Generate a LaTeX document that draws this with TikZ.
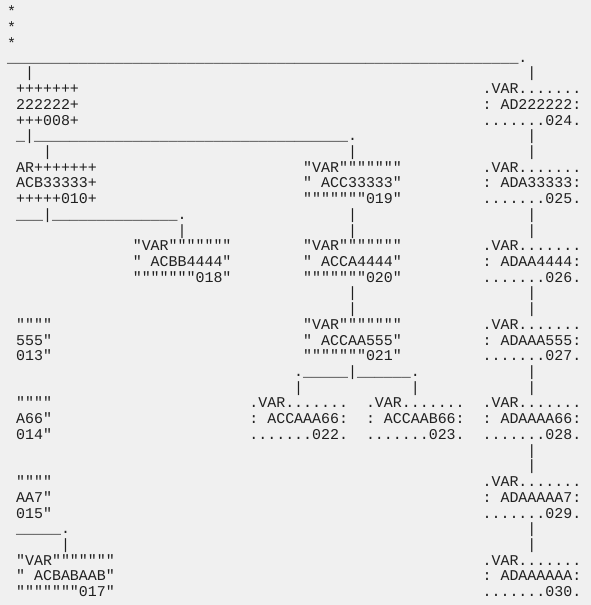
\documentclass[tikz,border=0pt]{standalone}
\usepackage{fontspec}
\setmonofont{Liberation Mono}
\definecolor{bg}{HTML}{F0F0F0}
\definecolor{ink}{HTML}{202020}
\newcommand\ur[1]{\ifnum#1>0 \textunderscore\expandafter\ur\expandafter{\the\numexpr#1-1\relax}\fi}
\tikzset{ln/.style={anchor=base west, inner sep=0pt, outer sep=0pt, text=ink,
  font=\ttfamily\fontsize{14.95}{15}\selectfont\frenchspacing}}
\newcommand\T[4]{\node[ln] (#1) at ({7.2+#3*8.97},{590-#2*15.72}) {#4};}
\begin{document}
\begin{tikzpicture}[x=1pt,y=1pt]
\fill[bg] (0,0) rectangle (591,605);
\useasboundingbox (0,0) rectangle (591,605);
% stars
\T{s0}{0}{0}{\raisebox{-2pt}{*}}
\T{s1}{1}{0}{\raisebox{-2pt}{*}}
\T{s2}{2}{0}{\raisebox{-2pt}{*}}
% row 3-4
\T{r3a}{3}{0}{\ur{57}.}
\T{r4a}{4}{2}{|}
\T{r4b}{4}{58}{|}
% rows 5-7
\T{r5a}{5}{1}{+++++++}
\T{r5b}{5}{53}{.VAR.......}
\T{r6a}{6}{1}{222222+}
\T{r6b}{6}{53}{: AD222222:}
\T{r7a}{7}{1}{+++008+}
\T{r7b}{7}{53}{.......024.}
% rows 8-9
\T{r8a}{8}{1}{\textunderscore|\ur{35}.}
\T{r8b}{8}{58}{|}
\T{r9a}{9}{4}{|}
\T{r9b}{9}{38}{|}
\T{r9c}{9}{58}{|}
% rows 10-12
\T{r10a}{10}{1}{AR+++++++}
\T{r10b}{10}{33}{"VAR"""""""}
\T{r10c}{10}{53}{.VAR.......}
\T{r11a}{11}{1}{ACB33333+}
\T{r11b}{11}{33}{" ACC33333"}
\T{r11c}{11}{53}{: ADA33333:}
\T{r12a}{12}{1}{+++++010+}
\T{r12b}{12}{33}{"""""""019"}
\T{r12c}{12}{53}{.......025.}
% rows 13-14
\T{r13a}{13}{1}{\ur{3}|\ur{14}.}
\T{r13b}{13}{38}{|}
\T{r13c}{13}{58}{|}
\T{r14a}{14}{19}{|}
\T{r14b}{14}{38}{|}
\T{r14c}{14}{58}{|}
% rows 15-17
\T{r15a}{15}{14}{"VAR"""""""}
\T{r15b}{15}{33}{"VAR"""""""}
\T{r15c}{15}{53}{.VAR.......}
\T{r16a}{16}{14}{" ACBB4444"}
\T{r16b}{16}{33}{" ACCA4444"}
\T{r16c}{16}{53}{: ADAA4444:}
\T{r17a}{17}{14}{"""""""018"}
\T{r17b}{17}{33}{"""""""020"}
\T{r17c}{17}{53}{.......026.}
% rows 18-19
\T{r18b}{18}{38}{|}
\T{r18c}{18}{58}{|}
\T{r19b}{19}{38}{|}
\T{r19c}{19}{58}{|}
% rows 20-22
\T{r20a}{20}{1}{""""}
\T{r20b}{20}{33}{"VAR"""""""}
\T{r20c}{20}{53}{.VAR.......}
\T{r21a}{21}{1}{555"}
\T{r21b}{21}{33}{" ACCAA555"}
\T{r21c}{21}{53}{: ADAAA555:}
\T{r22a}{22}{1}{013"}
\T{r22b}{22}{33}{"""""""021"}
\T{r22c}{22}{53}{.......027.}
% rows 23-24
\T{r23b}{23}{32}{.\ur{5}|\ur{6}.}
\T{r23c}{23}{58}{|}
\T{r24a}{24}{32}{|}
\T{r24b}{24}{45}{|}
\T{r24c}{24}{58}{|}
% rows 25-27
\T{r25a}{25}{1}{""""}
\T{r25b}{25}{27}{.VAR.......}
\T{r25d}{25}{40}{.VAR.......}
\T{r25c}{25}{53}{.VAR.......}
\T{r26a}{26}{1}{A66"}
\T{r26b}{26}{27}{: ACCAAA66:}
\T{r26d}{26}{40}{: ACCAAB66:}
\T{r26c}{26}{53}{: ADAAAA66:}
\T{r27a}{27}{1}{014"}
\T{r27b}{27}{27}{.......022.}
\T{r27d}{27}{40}{.......023.}
\T{r27c}{27}{53}{.......028.}
% rows 28-29
\T{r28c}{28}{58}{|}
\T{r29c}{29}{58}{|}
% rows 30-32
\T{r30a}{30}{1}{""""}
\T{r30c}{30}{53}{.VAR.......}
\T{r31a}{31}{1}{AA7"}
\T{r31c}{31}{53}{: ADAAAAA7:}
\T{r32a}{32}{1}{015"}
\T{r32c}{32}{53}{.......029.}
% rows 33-34
\T{r33a}{33}{1}{\ur{5}.}
\T{r33c}{33}{58}{|}
\T{r34a}{34}{6}{|}
\T{r34c}{34}{58}{|}
% rows 35-37
\T{r35a}{35}{1}{"VAR"""""""}
\T{r35c}{35}{53}{.VAR.......}
\T{r36a}{36}{1}{" ACBABAAB"}
\T{r36c}{36}{53}{: ADAAAAAA:}
\T{r37a}{37}{1}{"""""""017"}
\T{r37c}{37}{53}{.......030.}
\end{tikzpicture}
\end{document}
